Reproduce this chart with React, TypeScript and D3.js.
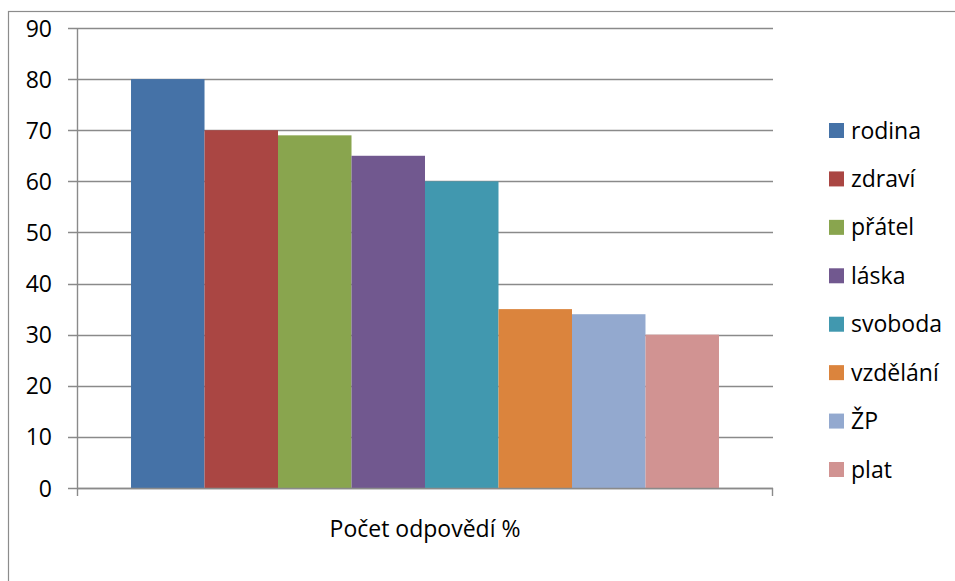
import React from "react";
import * as d3 from "d3";

const categories = ["rodina", "zdraví", "přátel", "láska", "svoboda", "vzdělání", "ŽP", "plat"];
const values = [80, 70, 69, 65, 60, 35, 34, 30];
const colors = ["#4572A7", "#AA4643", "#89A54E", "#71588F", "#4198AF", "#DB843D", "#93A9CF", "#D19392"];
const yTicks = [0, 10, 20, 30, 40, 50, 60, 70, 80, 90];
const axisTitle = "Počet odpovědí %";

const W = 955;
const H = 581;
const plot = { left: 77, right: 773, top: 28, bottom: 488 };
const FONT = "'Open Sans', sans-serif";
const FS = 23;

export default function App() {
  const y = d3.scaleLinear().domain([0, 90]).range([plot.bottom, plot.top]);
  const x = d3
    .scaleBand<string>()
    .domain(categories)
    .range([plot.left, plot.right])
    .paddingInner(0)
    .paddingOuter(0.735);
  const legendY = d3.scalePoint<string>().domain(categories).range([130.5, 469.5]);
  const grid = "#8a8a8a";

  return (
    <svg
      width={W}
      height={H}
      style={{ position: "absolute", left: 0, top: 0, background: "#fff" }}
      fontFamily={FONT}
    >
      <rect x={0} y={0} width={W} height={H} fill="#fff" />
      {/* outer chart border */}
      <rect x={8.5} y={11.5} width={W + 20} height={H + 20} fill="none" stroke="#8c8c8c" strokeWidth={1.2} />

      {/* gridlines */}
      {yTicks.map((t) => (
        <line
          key={"g" + t}
          x1={plot.left - 9}
          x2={plot.right}
          y1={Math.round(y(t)) + 0.5}
          y2={Math.round(y(t)) + 0.5}
          stroke={grid}
          strokeWidth={1.4}
        />
      ))}

      {/* bars */}
      {categories.map((c, i) => (
        <rect
          key={c}
          x={x(c)}
          y={y(values[i])}
          width={x.bandwidth()}
          height={y(0) - y(values[i])}
          fill={colors[i]}
        />
      ))}

      {/* y axis */}
      <line x1={plot.left + 0.5} x2={plot.left + 0.5} y1={plot.top} y2={plot.bottom + 8} stroke={grid} strokeWidth={1.4} />
      {/* x axis */}
      <line x1={plot.left} x2={plot.right} y1={plot.bottom + 0.5} y2={plot.bottom + 0.5} stroke={grid} strokeWidth={1.4} />
      <line x1={plot.right - 0.5} x2={plot.right - 0.5} y1={plot.bottom} y2={plot.bottom + 8} stroke={grid} strokeWidth={1.4} />

      {/* y tick labels */}
      {yTicks.map((t) => (
        <text key={"l" + t} x={52} y={y(t) + 8.5} textAnchor="end" fontSize={FS} fill="#000">
          {t}
        </text>
      ))}

      {/* x axis title */}
      <text x={(plot.left + plot.right) / 2} y={537} textAnchor="middle" fontSize={FS} fill="#000">
        {axisTitle}
      </text>

      {/* legend */}
      {categories.map((c, i) => (
        <g key={"lg" + c}>
          <rect x={829} y={(legendY(c) as number) - 7.5} width={15} height={15} fill={colors[i]} />
          <text x={851} y={(legendY(c) as number) + 8} fontSize={FS} fill="#000">
            {c}
          </text>
        </g>
      ))}
    </svg>
  );
}
